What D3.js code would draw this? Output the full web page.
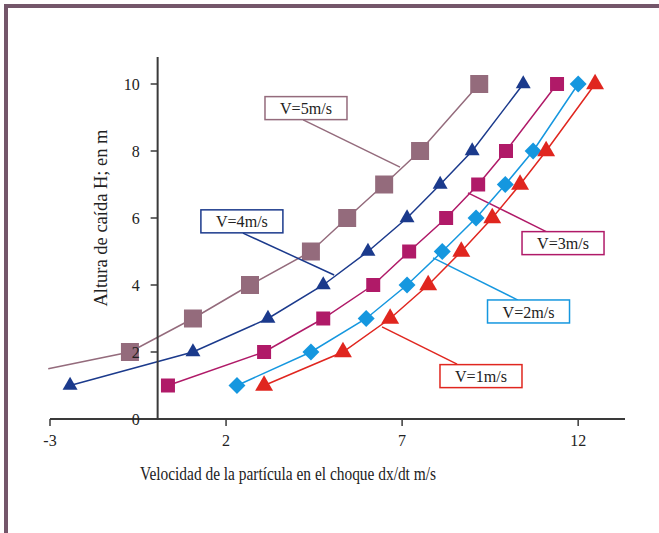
<!DOCTYPE html>
<html>
<head>
<meta charset="utf-8">
<script src="https://cdn.jsdelivr.net/npm/d3@7"></script>
<style>
  body { margin: 0; background: #fff; }
  svg { display: block; font-family: "Liberation Serif", "DejaVu Serif", serif; }
</style>
</head>
<body>
<div id="chart"></div>
<script>
// heights H (m) shared by all series
const heights = [1, 2, 3, 4, 5, 6, 7, 8, 10];

// velocity at impact (m/s) for each particle speed
const v5 = [-3.05, -0.73, 1.06, 2.68, 4.41, 5.44, 6.49, 7.51, 9.19];
const v5Heights = [1.5, 2, 3, 4, 5, 6, 7, 8, 10];
const v4 = [-2.43, 1.06, 3.19, 4.76, 6.03, 7.14, 8.08, 8.99, 10.44];
const v3 = [0.35, 3.08, 4.76, 6.18, 7.2, 8.25, 9.16, 9.95, 11.4];
const v2 = [2.31, 4.41, 5.98, 7.14, 8.14, 9.1, 9.93, 10.72, 12.0];
const v1 = [3.08, 5.32, 6.66, 7.74, 8.68, 9.56, 10.35, 11.09, 12.48];

const seriesNames = ["V=5m/s", "V=4m/s", "V=3m/s", "V=2m/s", "V=1m/s"];
const xTicks = [-3, 2, 7, 12];
const yTicks = [0, 2, 4, 6, 8, 10];

const width = 659, height = 533;

const series = [
  { name: seriesNames[0], xs: v5, hs: v5Heights, color: "#946b7c", shape: "square", size: 18 },
  { name: seriesNames[1], xs: v4, hs: heights, color: "#1b3a8c", shape: "triangle", size: 15 },
  { name: seriesNames[2], xs: v3, hs: heights, color: "#b01a68", shape: "square", size: 14 },
  { name: seriesNames[3], xs: v2, hs: heights, color: "#1597df", shape: "diamond", size: 12 },
  { name: seriesNames[4], xs: v1, hs: heights, color: "#e0261f", shape: "triangle", size: 18 }
];

// callout boxes: box centre, leader start and leader end, in data units
const callouts = [
  { box: [4.27, 9.28], from: [4.19, 8.93], to: [6.94, 7.52] },
  { box: [2.45, 5.9], from: [2.48, 5.55], to: [5.07, 4.3] },
  { box: [11.57, 5.25], from: [11.12, 5.58], to: [8.87, 6.75] },
  { box: [10.59, 3.21], from: [10.29, 3.55], to: [7.88, 4.81] },
  { box: [9.24, 1.28], from: [8.56, 1.64], to: [6.43, 2.75] }
];

const svg = d3.select("#chart").append("svg")
  .attr("width", width)
  .attr("height", height);

// outer frame
svg.append("path")
  .attr("d", `M6,${height} V6 H${width}`)
  .attr("fill", "none")
  .attr("stroke", "#74566a")
  .attr("stroke-width", 4);

const x = d3.scaleLinear().domain([-3, 13.33]).range([50, 625]);
const y = d3.scaleLinear().domain([0, 10]).range([419, 84]);
const y0 = x(0) + 2;

// lines and markers
const line = d3.line().x(d => x(d[0])).y(d => y(d[1]));
const symbols = { square: d3.symbolSquare, triangle: d3.symbolTriangle, diamond: d3.symbolSquare };

series.forEach((s, i) => {
  const pts = s.xs.map((v, j) => [v, s.hs[j]]);
  const g = svg.append("g");
  g.append("path")
    .attr("d", line(pts))
    .attr("fill", "none")
    .attr("stroke", s.color)
    .attr("stroke-width", 1.5);

  g.selectAll("path.m").data(pts.filter(p => p[0] >= -3)).join("path")
    .attr("class", "m")
    .attr("transform", p => `translate(${x(p[0])},${y(p[1])})` + (s.shape === "diamond" ? " rotate(45)" : ""))
    .attr("d", d3.symbol(symbols[s.shape], s.shape === "triangle" ? s.size * s.size * 0.43 : s.size * s.size))
    .attr("fill", s.color);

  // callout
  const c = callouts[i];
  g.append("line")
    .attr("x1", x(c.from[0])).attr("y1", y(c.from[1]))
    .attr("x2", x(c.to[0])).attr("y2", y(c.to[1]))
    .attr("stroke", s.color).attr("stroke-width", 1.5);
  const bw = 82, bh = 23;
  g.append("rect")
    .attr("x", x(c.box[0]) - bw / 2).attr("y", y(c.box[1]) - bh / 2)
    .attr("width", bw).attr("height", bh)
    .attr("fill", "#fff")
    .attr("stroke", s.color).attr("stroke-width", 1.5);
  g.append("text")
    .attr("x", x(c.box[0])).attr("y", y(c.box[1]))
    .attr("dy", "0.36em")
    .attr("text-anchor", "middle")
    .attr("font-size", 17)
    .attr("textLength", 52)
    .attr("lengthAdjust", "spacingAndGlyphs")
    .attr("fill", "#222")
    .text(s.name);
});

// x axis
const xAxis = svg.append("g").attr("transform", `translate(0,${y(0)})`);
xAxis.append("line")
  .attr("x1", x(-3)).attr("x2", x.range()[1])
  .attr("stroke", "#3a3a3a").attr("stroke-width", 2);
xAxis.selectAll("line.xt").data(xTicks).join("line")
  .attr("class", "xt")
  .attr("x1", d => x(d)).attr("x2", d => x(d))
  .attr("y1", 0).attr("y2", 7)
  .attr("stroke", "#3a3a3a").attr("stroke-width", 1.5);
xAxis.selectAll("text.xl").data(xTicks).join("text")
  .attr("class", "xl")
  .attr("x", d => x(d)).attr("y", 27)
  .attr("text-anchor", "middle")
  .attr("font-size", 16)
  .attr("fill", "#222")
  .text(d => d);

// y axis
const yAxis = svg.append("g").attr("transform", `translate(${y0},0)`);
yAxis.append("line")
  .attr("y1", 57).attr("y2", y(0))
  .attr("stroke", "#3a3a3a").attr("stroke-width", 2);
yAxis.selectAll("line.yt").data(yTicks.filter(d => d > 0)).join("line")
  .attr("class", "yt")
  .attr("x1", -7).attr("x2", 0)
  .attr("y1", d => y(d)).attr("y2", d => y(d))
  .attr("stroke", "#3a3a3a").attr("stroke-width", 1.5);
yAxis.selectAll("text.yl").data(yTicks).join("text")
  .attr("class", "yl")
  .attr("x", -18).attr("y", d => y(d))
  .attr("dy", "0.35em")
  .attr("text-anchor", "end")
  .attr("font-size", 16)
  .attr("fill", "#222")
  .text(d => d);

// axis titles
svg.append("text")
  .attr("transform", `translate(107,218) rotate(-90)`)
  .attr("text-anchor", "middle")
  .attr("font-size", 18.5)
  .attr("textLength", 177)
  .attr("lengthAdjust", "spacingAndGlyphs")
  .attr("fill", "#222")
  .text("Altura de caída H; en m");

svg.append("text")
  .attr("x", 288).attr("y", 480)
  .attr("text-anchor", "middle")
  .attr("font-size", 18.5)
  .attr("textLength", 296)
  .attr("lengthAdjust", "spacingAndGlyphs")
  .attr("fill", "#222")
  .text("Velocidad de la partícula en el choque dx/dt m/s");
</script>
</body>
</html>
